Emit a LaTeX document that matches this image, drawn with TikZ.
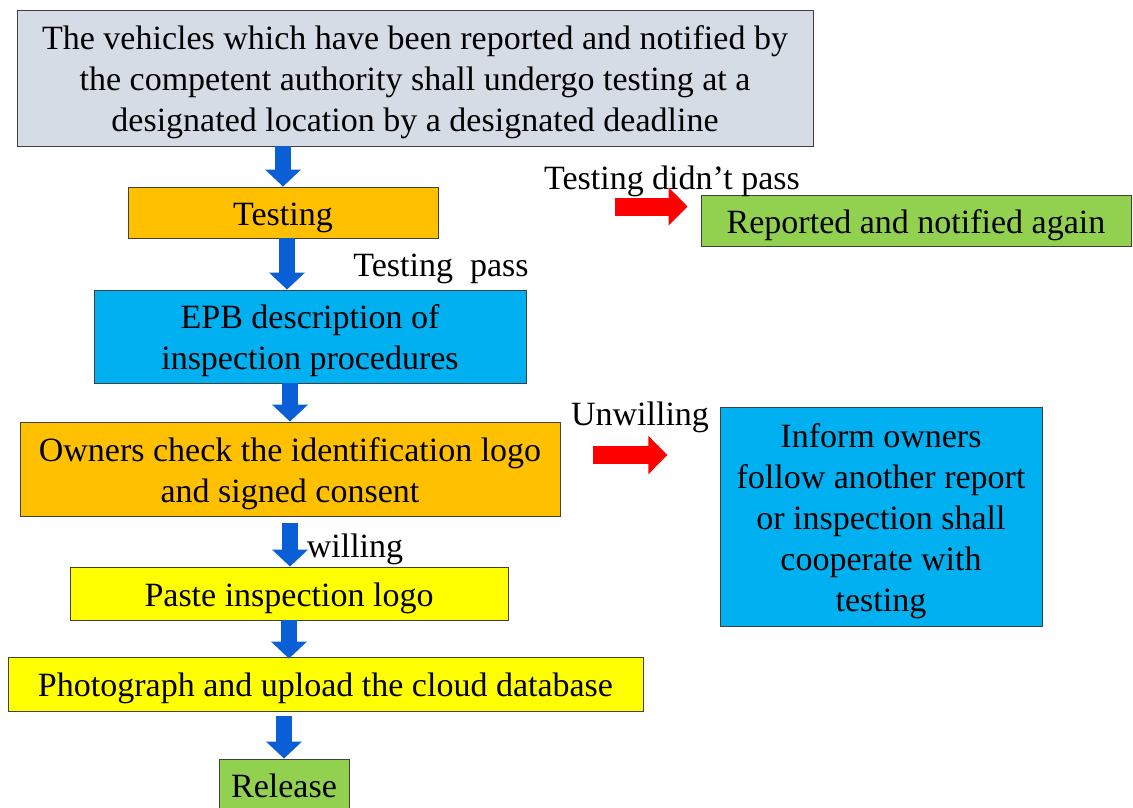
\documentclass[tikz,border=0pt]{standalone}
\usepackage{fontspec}
\setmainfont{Liberation Serif}
\usetikzlibrary{arrows.meta,calc}

\definecolor{boxgray}{HTML}{D6DCE5}
\definecolor{boxorange}{HTML}{FFC000}
\definecolor{boxblue}{HTML}{00B0F0}
\definecolor{boxyellow}{HTML}{FFFF00}
\definecolor{boxgreen}{HTML}{92D050}
\definecolor{flowblue}{RGB}{10,95,215}
\definecolor{flowred}{RGB}{255,0,0}

% strut that pushes the text a little lower in its box
\newcommand{\lift}{\rule{0pt}{33pt}}

\tikzset{
  box/.style={draw=black!75,line width=0.9pt,align=center,inner sep=0pt,
    font=\fontsize{34}{41}\selectfont},
  lbl/.style={inner sep=0pt,font=\fontsize{34}{41}\selectfont},
  flowdown/.style={flowblue,line width=16pt,-{Triangle[width=35pt,length=17pt]}},
  flowside/.style={flowred,line width=18pt,-{Triangle[width=37pt,length=19pt]}},
}

\begin{document}
\begin{tikzpicture}[x=1pt,y=-1pt]
  \useasboundingbox (0,0) rectangle (1133,807);
  % main column
  \node[box,fill=boxgray,minimum width=796,minimum height=136] (notice) at (415,78)
    {\lift The vehicles which have been reported and notified by\\
     the competent authority shall undergo testing at a\\
     designated location by a designated deadline};
  \node[box,fill=boxorange,minimum width=310,minimum height=51] (test) at (283,212.5) {\lift Testing};
  \node[box,fill=boxblue,minimum width=432,minimum height=93] (epb) at (310,336.5)
    {\lift EPB description of\\ inspection procedures};
  \node[box,fill=boxorange,minimum width=540,minimum height=94] (owner) at (290,469)
    {\lift Owners check the identification logo\\ and signed consent};
  \node[box,fill=boxyellow,minimum width=438,minimum height=53] (paste) at (289,593.5)
    {\lift Paste inspection logo};
  \node[box,fill=boxyellow,minimum width=635,minimum height=54] (photo) at (325.5,684)
    {\lift Photograph and upload the cloud database};
  \node[box,fill=boxgreen,minimum width=130,minimum height=54] (release) at (284,786) {Release};
  % side branches
  \node[box,fill=boxgreen,minimum width=430,minimum height=51] (again) at (916,220.5)
    {\lift Reported and notified again};
  \node[box,fill=boxblue,minimum width=322,minimum height=219] (inform) at (881,516.5)
    {\lift Inform owners\\ follow another report\\ or inspection shall\\ cooperate with\\ testing};
  % labels
  \node[lbl] (fail) at (672,181) {Testing didn’t pass};
  \node[lbl] (pass) at (441,269) {Testing\ \ pass};
  \node[lbl] (unwill) at (640,417) {Unwilling};
  \node[lbl] (will) at (355,549) {willing};
  % arrows
  \draw[flowdown] (test.north |- notice.south) -- (test.north);
  \draw[flowdown] ([xshift=4pt]test.south) -- ([xshift=4pt]test.south |- epb.north);
  \draw[flowdown] (owner.north |- epb.south) -- (owner.north);
  \draw[flowdown] ([yshift=-7pt]owner.south) -- (owner.south |- paste.north);
  \draw[flowdown] (paste.south) -- ([yshift=-2pt]paste.south |- photo.north);
  \draw[flowdown] ([yshift=-5pt]release.north |- photo.south) -- (release.north);
  \draw[flowside] ([shift={(-86pt,14pt)}]again.west) -- ([shift={(-13pt,14pt)}]again.west);
  \draw[flowside] ([shift={(33pt,14pt)}]owner.east) -- ([shift={(107pt,14pt)}]owner.east);
\end{tikzpicture}
\end{document}
